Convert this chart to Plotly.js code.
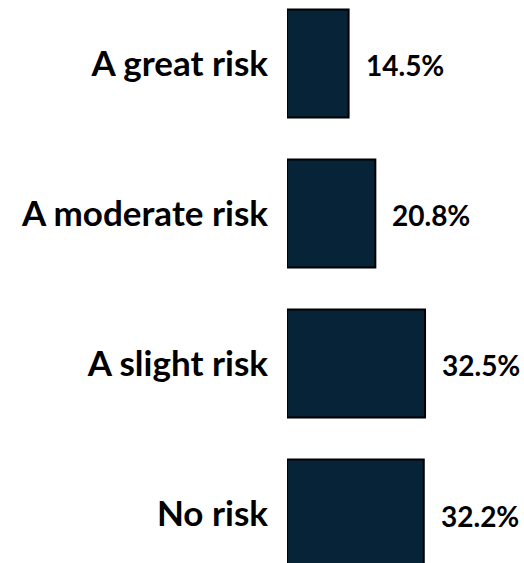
<!DOCTYPE html>
<html>
<head>
<meta charset="utf-8">
<script src="https://cdn.plot.ly/plotly-3.0.1.min.js"></script>
<style>
  html, body { margin: 0; padding: 0; background: #ffffff; }
  #chart { width: 524px; height: 563px; }
</style>
</head>
<body>
<div id="chart"></div>
<script>
const categories = ["A great risk", "A moderate risk", "A slight risk", "No risk"];
const values = [14.5, 20.8, 32.5, 32.2];
const valueLabels = ["14.5%", "20.8%", "32.5%", "32.2%"];

const FONT = "Lato, 'Open Sans', sans-serif";
const barColor = "#062337";

const trace = {
  type: "bar",
  orientation: "h",
  y: categories,
  x: values,
  width: 0.72,
  marker: { color: barColor, line: { color: "#000000", width: 2 } },
  hoverinfo: "none"
};

const annotations = categories.map((c, i) => ({
  x: values[i],
  y: c,
  xref: "x",
  yref: "y",
  text: "<b>" + valueLabels[i] + "</b>",
  showarrow: false,
  xanchor: "left",
  yanchor: "middle",
  xshift: 15,
  yshift: -2,
  font: { family: FONT, size: 28, color: "#000000" }
}));

const layout = {
  width: 524,
  height: 563,
  margin: { l: 287, r: 0, t: 0, b: 0, pad: 0 },
  paper_bgcolor: "#ffffff",
  plot_bgcolor: "#ffffff",
  showlegend: false,
  xaxis: {
    range: [0, 55.8],
    visible: false,
    fixedrange: true
  },
  yaxis: {
    type: "category",
    categoryorder: "array",
    categoryarray: categories,
    range: [3.33, -0.423],
    showgrid: false,
    zeroline: false,
    showline: false,
    ticks: "",
    ticklabelstandoff: 18,
    tickfont: { family: FONT, size: 35, color: "#000000", weight: "bold" },
    fixedrange: true
  },
  annotations: annotations
};

Plotly.newPlot("chart", [trace], layout, { displayModeBar: false, staticPlot: true });
</script>
</body>
</html>
